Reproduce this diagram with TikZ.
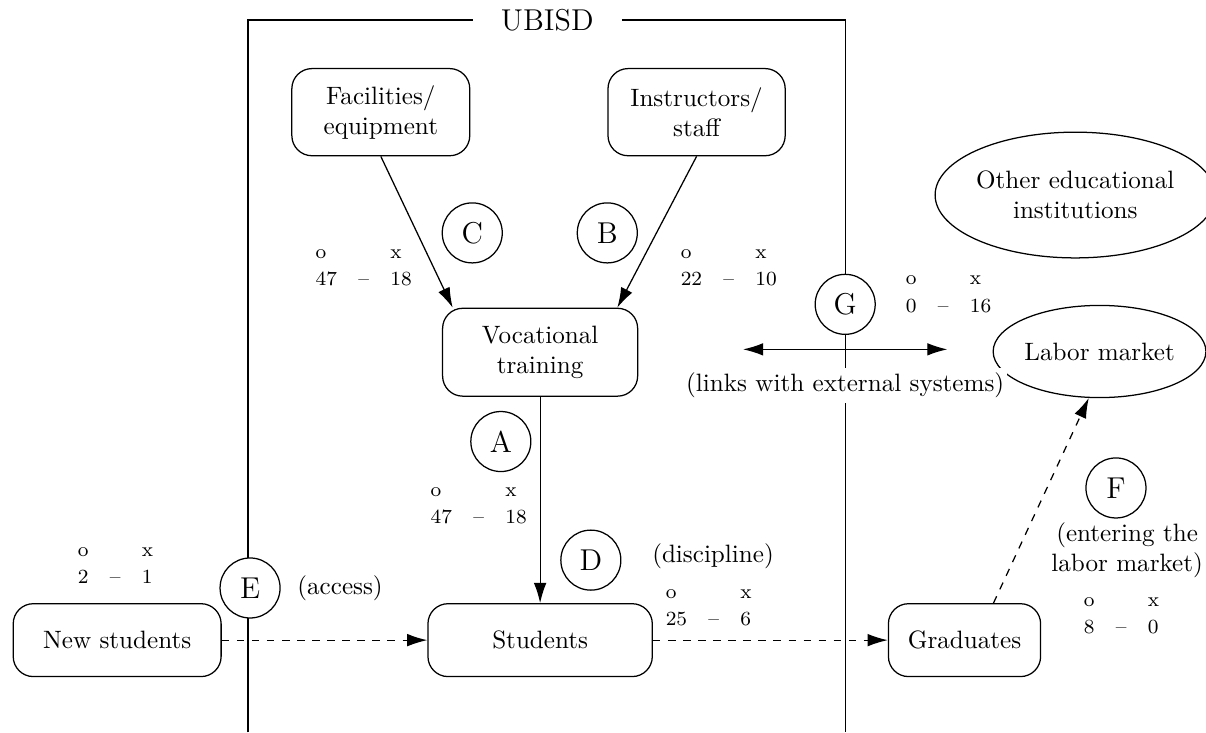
\documentclass[tikz,border=0pt]{standalone}
\usepackage{tikz}
\usetikzlibrary{arrows.meta, shapes.geometric}
\newcommand{\score}[2]{{\footnotesize\renewcommand{\arraystretch}{1.15}%
	\begin{tabular}{@{}l@{\hspace{8.5pt}}c@{\hspace{8.5pt}}l@{}}o & & x\\ #1 & -- & #2\end{tabular}}}

\begin{document}
\begin{tikzpicture}[line width=0.5pt,
	rbox/.style={rectangle,draw,rounded corners=8pt,align=center,fill=white},
	letter/.style={circle,draw,fill=white,minimum size=0.84cm,inner sep=0pt,font=\large},
	oval/.style={ellipse,draw,align=center,inner sep=0pt},
	tally/.style={anchor=west,inner sep=0pt},
	tip/.style={-{Latex[length=8pt,width=5pt]}}
	]
	\useasboundingbox (0,0) rectangle (16.88,10.25);

	% system frame
	\node[fill=white,inner xsep=11pt,inner ysep=2pt,font=\large] (ubisd) at (7.66,9.97) {UBISD};
	\draw (3.47,0) |- (ubisd) -| (11.83,0);

	% boxes
	\node[rbox,minimum width=2.49cm,minimum height=1.22cm] (fac) at (5.33,8.68) {Facilities/\\equipment};
	\node[rbox,minimum width=2.48cm,minimum height=1.22cm] (ins) at (9.75,8.68) {Instructors/\\staff};
	\node[rbox,minimum width=2.73cm,minimum height=1.23cm] (voc) at (7.56,5.32) {Vocational\\training};
	\node[rbox,minimum width=2.91cm,minimum height=1.02cm] (new) at (1.64,1.29) {New students};
	\node[rbox,minimum width=3.14cm,minimum height=1.02cm] (stu) at (7.56,1.29) {Students};
	\node[rbox,minimum width=2.13cm,minimum height=1.02cm] (grad) at (13.50,1.29) {Graduates};

	\node[oval,minimum width=3.58cm,minimum height=1.76cm] (other) at (15.05,7.52) {Other educational\\institutions};
	\node[oval,minimum width=2.97cm,minimum height=1.29cm] (labor) at (15.39,5.33) {Labor market};

	% flows
	\draw[tip] (fac.south) -- (voc.153);
	\draw[tip] (ins.south) -- (voc.30);
	\draw[tip] (voc.south) -- (stu.north);
	\draw[tip,dashed] (new.east) -- (stu.west);
	\draw[tip,dashed] (stu.east) -- (grad.west);
	\draw[tip,dashed] (grad.52) -- (labor.257);

	\coordinate (linkl) at (10.40,5.36);
	\coordinate (linkr) at (13.26,5.36);
	\draw[{Latex[length=8pt,width=5pt]}-{Latex[length=8pt,width=5pt]}] (linkl) -- (linkr);
	\node[fill=white,inner xsep=1pt,inner ysep=2pt] (links) at (11.83,4.86) {(links with external systems)};

	% letters
	\node[letter] (C) at (6.61,6.99) {C};
	\node[letter] (B) at (8.50,6.99) {B};
	\node[letter] (A) at (7.01,4.07) {A};
	\node[letter] (D) at (8.27,2.41) {D};
	\node[letter] (E) at (3.50,2.02) {E};
	\node[letter] (G) at (11.83,5.99) {G};
	\node[letter] (F) at (15.62,3.42) {F};

	\node (access) at (4.76,2.02) {(access)};
	\node (disc) at (9.98,2.46) {(discipline)};
	\node[align=center,anchor=east,inner xsep=1pt] (enter) at (16.88,2.55) {(entering the\\labor market)};

	% tallies
	\node[tally] (sC) at (4.41,6.52) {\score{47}{18}};
	\node[tally] (sB) at (9.52,6.52) {\score{22}{10}};
	\node[tally] (sG) at (12.67,6.15) {\score{0}{16}};
	\node[tally] (sA) at (6.02,3.19) {\score{47}{18}};
	\node[tally] (sD) at (9.31,1.76) {\score{25}{6}};
	\node[tally] (sE) at (1.08,2.35) {\score{2}{1}};
	\node[tally] (sF) at (15.16,1.65) {\score{8}{0}};
\end{tikzpicture}
\end{document}
